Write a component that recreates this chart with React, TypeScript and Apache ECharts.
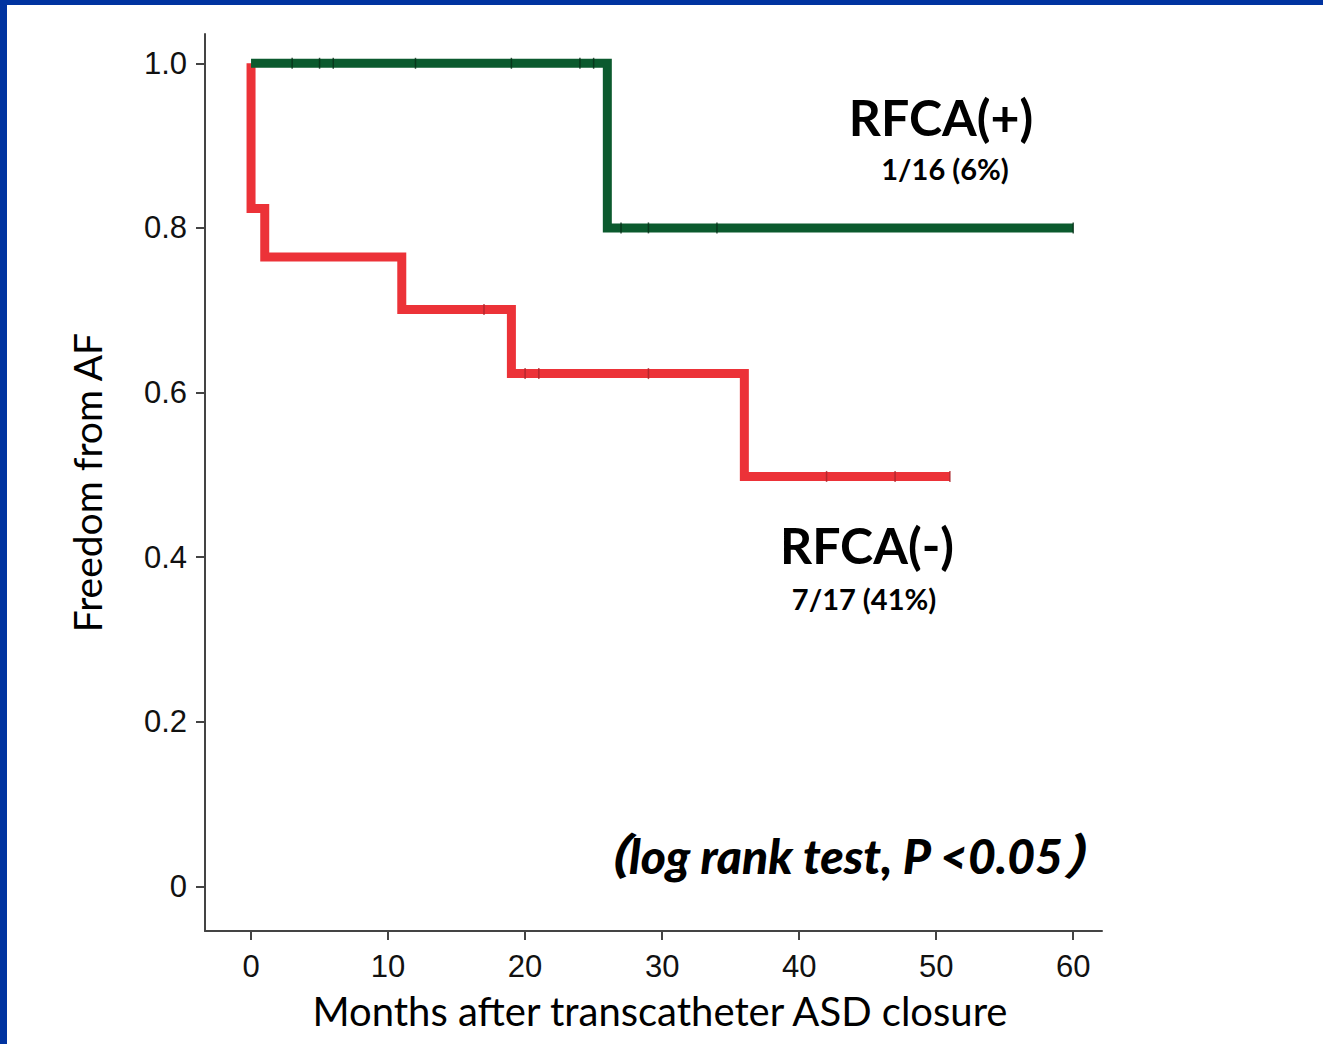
import React, { useEffect, useRef } from "react";
import * as echarts from "echarts";

// Kaplan-Meier curves: [months, survival]
const rfcaPlusCurve: [number, number][] = [
  [0, 1.0],
  [26, 0.8],
  [60, 0.8],
];
const rfcaMinusCurve: [number, number][] = [
  [0, 1.0],
  [0, 0.8235],
  [1, 0.7647],
  [11, 0.701],
  [19, 0.623],
  [36, 0.498],
  [51, 0.498],
];
// censor marks
const rfcaPlusCensor: [number, number][] = [
  [3, 1.0], [5, 1.0], [6, 1.0], [12, 1.0], [19, 1.0], [24, 1.0], [25, 1.0],
  [27, 0.8], [29, 0.8], [34, 0.8], [60, 0.8],
];
const rfcaMinusCensor: [number, number][] = [
  [17, 0.701], [20, 0.623], [21, 0.623], [29, 0.623],
  [42, 0.498], [47, 0.498], [51, 0.498],
];
const xTicks = [0, 10, 20, 30, 40, 50, 60];
const yTicks = [0, 0.2, 0.4, 0.6, 0.8, 1.0];

const xTitle = "Months after transcatheter ASD closure";
const yTitle = "Freedom from AF";
const plusLabel = "RFCA(+)";
const plusSub = "1/16 (6%)";
const minusLabel = "RFCA(-)";
const minusSub = "7/17 (41%)";
const pText = "（log rank test, P <0.05）";

const GREEN = "#0b5a2e";
const RED = "#ec3238";
const AXIS = "#444444";

export default function App() {
  const ref = useRef<HTMLDivElement>(null);
  useEffect(() => {
    const chart = echarts.init(ref.current!, null, { renderer: "svg" });
    const ann = "Lato, 'Open Sans', sans-serif";
    chart.setOption({
      animation: false,
      backgroundColor: "#ffffff",
      grid: {
        left: 205, right: 221, top: 34, bottom: 113,
        containLabel: false, outerBoundsMode: "none",
      },
      xAxis: {
        type: "value",
        min: -3.36,
        max: 62.1,
        name: xTitle,
        nameLocation: "middle",
        nameGap: 60,
        nameTextStyle: { fontFamily: ann, fontSize: 40, color: "#000", padding: [0, 0, 0, 13] },
        axisLine: { show: true, onZero: false, lineStyle: { color: AXIS, width: 2 } },
        axisTick: { show: true, customValues: xTicks, length: 9, lineStyle: { color: AXIS, width: 2 } },
        axisLabel: {
          customValues: xTicks,
          margin: 20,
          fontFamily: "'Liberation Sans', Arial, sans-serif",
          fontSize: 31,
          color: "#111",
        },
        splitLine: { show: false },
      },
      yAxis: {
        type: "value",
        min: -0.0543,
        max: 1.0356,
        name: yTitle,
        nameLocation: "middle",
        nameGap: 99,
        nameRotate: 90,
        nameTextStyle: { fontFamily: ann, fontSize: 39, color: "#000" },
        axisLine: { show: true, onZero: false, lineStyle: { color: AXIS, width: 2 } },
        axisTick: { show: true, customValues: yTicks, length: 9, lineStyle: { color: AXIS, width: 2 } },
        axisLabel: {
          customValues: yTicks,
          margin: 18,
          fontFamily: "'Liberation Sans', Arial, sans-serif",
          fontSize: 31,
          color: "#111",
          formatter: (v: number) => (v === 0 ? "0" : v.toFixed(1)),
        },
        splitLine: { show: false },
      },
      series: [
        {
          type: "line",
          step: "end",
          data: rfcaMinusCurve,
          showSymbol: false,
          lineStyle: { color: RED, width: 9, join: "miter", cap: "butt" },
          z: 2,
        },
        {
          type: "line",
          step: "end",
          data: rfcaPlusCurve,
          showSymbol: false,
          lineStyle: { color: GREEN, width: 9, join: "miter", cap: "butt" },
          z: 3,
        },
        {
          type: "scatter",
          data: rfcaMinusCensor,
          symbol: "rect",
          symbolSize: [1.5, 11],
          itemStyle: { color: "#a8242a" },
          z: 4,
        },
        {
          type: "scatter",
          data: rfcaPlusCensor,
          symbol: "rect",
          symbolSize: [1.5, 11],
          itemStyle: { color: "#062e17" },
          z: 4,
        },
      ],
      graphic: [
        { type: "rect", shape: { x: 0, y: 0, width: 7, height: 1044 }, style: { fill: "#0033a0" }, z: 100 },
        { type: "rect", shape: { x: 0, y: 0, width: 1323, height: 5 }, style: { fill: "#0033a0" }, z: 100 },
        {
          type: "text", x: 941, y: 117,
          style: { text: plusLabel, fontFamily: ann, fontWeight: "bold", fontSize: 50, fill: "#000", align: "center", verticalAlign: "middle" },
        },
        {
          type: "text", x: 945, y: 168,
          style: { text: plusSub, fontFamily: ann, fontWeight: "bold", fontSize: 29, fill: "#000", align: "center", verticalAlign: "middle" },
        },
        {
          type: "text", x: 867, y: 545,
          style: { text: minusLabel, fontFamily: ann, fontWeight: "bold", fontSize: 50, fill: "#000", align: "center", verticalAlign: "middle" },
        },
        {
          type: "text", x: 864, y: 598,
          style: { text: minusSub, fontFamily: ann, fontWeight: "bold", fontSize: 29, fill: "#000", align: "center", verticalAlign: "middle" },
        },
        {
          type: "text", x: 846, y: 855,
          style: { text: pText, fontFamily: "Lato, 'Noto Sans CJK JP', sans-serif", fontWeight: 900, fontStyle: "italic", fontSize: 48, fill: "#000", align: "center", verticalAlign: "middle" },
        },
      ],
    });
    return () => chart.dispose();
  }, []);
  return (
    <div
      ref={ref}
      style={{ position: "absolute", left: 0, top: 0, width: 1323, height: 1044 }}
    />
  );
}
